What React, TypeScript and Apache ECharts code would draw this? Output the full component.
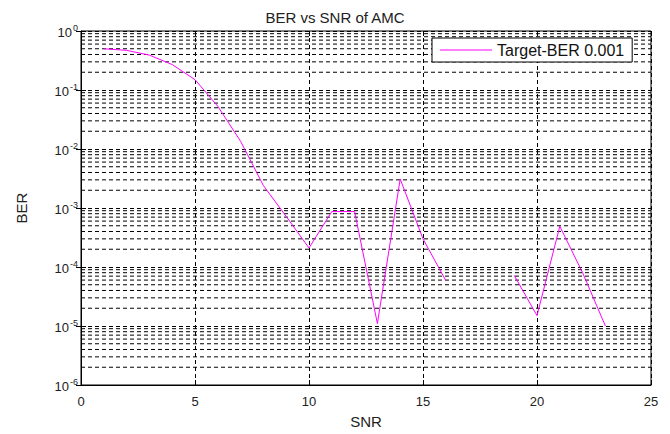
import React, { useEffect, useRef } from "react";
import * as echarts from "echarts";

const titleText = "BER vs SNR of AMC";
const seriesName = "Target-BER 0.001";
const xName = "SNR";
const yName = "BER";
const snr = [1, 2, 3, 4, 5, 6, 7, 8, 9, 10, 11, 12, 13, 14, 15, 16, 17, 18, 19, 20, 21, 22, 23];
const ber: (number | null)[] = [
  0.5, 0.47, 0.39, 0.27, 0.15, 0.053, 0.0135, 0.0024, 0.00072, 0.00021,
  0.00087, 0.00087, 0.000011, 0.0031, 0.0003, 0.000059, null, null,
  0.000072, 0.000015, 0.00049, 0.00008, 0.00001,
];
const decadeExponents = [-6, -5, -4, -3, -2, -1, 0];
const minorMultipliers = [2, 3, 4, 5, 6, 7, 8, 9];
const xMin = 0;
const xMax = 25;

export default function App() {
  const ref = useRef<HTMLDivElement>(null);
  useEffect(() => {
    if (!ref.current) return;
    const chart = echarts.init(ref.current, null, { renderer: "svg" });
    const gridData: (number | null)[][] = [];
    for (let e = -6; e <= -1; e++) {
      for (const k of minorMultipliers) {
        const v = k * Math.pow(10, e);
        gridData.push([xMin, v], [xMax, v], [xMax, null]);
      }
    }
    const font = "'Liberation Sans', Arial, sans-serif";
    const dash = [4, 3];
    const txt = "#222";
    chart.setOption({
      animation: false,
      backgroundColor: "#fff",
      textStyle: { fontFamily: font },
      title: {
        text: titleText,
        left: "center",
        top: 5,
        textStyle: { fontSize: 15, fontWeight: "normal", color: txt, fontFamily: font },
      },
      legend: {
        left: 432,
        top: 38,
        padding: [4, 8, 4, 8],
        backgroundColor: "#fff",
        borderColor: "#000",
        borderWidth: 1,
        borderRadius: 0,
        itemWidth: 52,
        itemHeight: 14,
        itemGap: 5,
        textStyle: { fontSize: 16, color: "#111", fontFamily: font, padding: [0, 0, 0, 0] },
        data: [{ name: seriesName, icon: "path://M0,0 L60,0 L60,1.2 L0,1.2 Z" }],
      },
      grid: {
        left: 81,
        right: 19,
        top: 31,
        bottom: 41,
        show: true,
        borderColor: "#000",
        borderWidth: 1,
        backgroundColor: "#fff",
      },
      xAxis: [
        {
          type: "value",
          min: xMin,
          max: xMax,
          interval: 5,
          name: xName,
          nameLocation: "middle",
          nameGap: 29,
          nameTextStyle: { fontSize: 15, color: txt, fontFamily: font },
          axisLine: { show: true, lineStyle: { color: "#000" } },
          axisTick: { show: true, inside: true, length: 5, lineStyle: { color: "#000" } },
          axisLabel: { fontSize: 13, color: txt, margin: 10, fontFamily: font },
          splitLine: { show: true, lineStyle: { color: "#000", type: dash, width: 1 } },
        },
        {
          type: "value",
          position: "top",
          min: xMin,
          max: xMax,
          interval: 5,
          axisLine: { show: false },
          axisTick: { show: true, inside: true, length: 5, lineStyle: { color: "#000" } },
          axisLabel: { show: false },
          splitLine: { show: false },
        },
      ],
      yAxis: [
        {
          type: "log",
          logBase: 10,
          min: 1e-6,
          max: 1,
          name: yName,
          nameLocation: "middle",
          nameGap: 52,
          nameRotate: 90,
          nameTextStyle: { fontSize: 15, color: txt, fontFamily: font },
          axisLine: { show: true, lineStyle: { color: "#000" } },
          axisTick: { show: true, inside: true, length: 5, lineStyle: { color: "#000" } },
          splitLine: { show: true, lineStyle: { color: "#000", type: dash, width: 1 } },
          axisLabel: {
            margin: 3,
            formatter: (v: number) => {
              const e = Math.round(Math.log10(v));
              if (!decadeExponents.includes(e)) return "";
              return `{b|10}{s|${e}}`;
            },
            rich: {
              b: { fontSize: 13, color: txt, fontFamily: font, verticalAlign: "bottom" },
              s: { fontSize: 9, color: txt, fontFamily: font, verticalAlign: "top", padding: [0, 0, 7, 1] },
            },
          },
        },
        {
          type: "log",
          logBase: 10,
          min: 1e-6,
          max: 1,
          position: "right",
          axisLine: { show: false },
          axisTick: { show: true, inside: true, length: 5, lineStyle: { color: "#000" } },
          axisLabel: { show: false },
          splitLine: { show: false },
        },
      ],
      series: [
        {
          name: "minor-grid",
          type: "line",
          data: gridData,
          symbol: "none",
          silent: true,
          connectNulls: false,
          lineStyle: { color: "#000", width: 1, type: dash },
          z: 1,
        },
        {
          name: seriesName,
          type: "line",
          data: snr.map((x, i) => [x, ber[i]]),
          symbol: "none",
          connectNulls: false,
          lineStyle: { color: "#ff00ff", width: 1 },
          itemStyle: { color: "#ff00ff" },
          z: 5,
        },
      ],
    });
    return () => chart.dispose();
  }, []);
  return <div ref={ref} style={{ width: 670, height: 434, position: "absolute", left: 0, top: 0 }} />;
}
